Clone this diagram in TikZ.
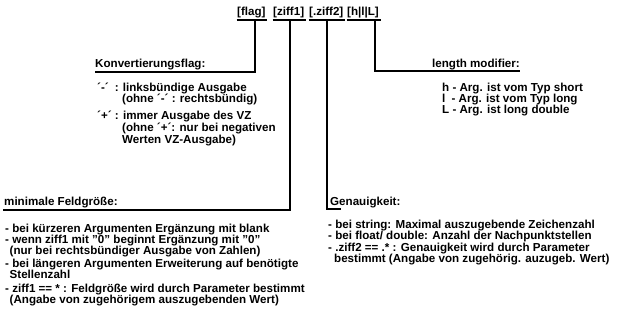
\documentclass[tikz,border=0pt]{standalone}
\usepackage{fontspec}
\setmainfont{Liberation Sans}
\begin{document}
\begin{tikzpicture}[x=1pt,y=-1pt,
  txt/.style={anchor=base west, inner sep=0pt, font=\fontsize{11.6}{13}\selectfont\bfseries},
  conn/.style={line width=1.2pt},
  uline/.style={line width=1.1pt}]
\useasboundingbox (0,0) rectangle (625,311);
% header
\node[txt] (flag) at (237,15) {[flag]};
\node[txt] (zif1) at (273,15) {[ziff1]};
\node[txt] (zif2) at (309,15) {[.ziff2]};
\node[txt] (hlL)  at (347,15) {[h|l|L]};
\foreach \n in {flag,zif1,zif2,hlL}{
  \draw[uline] ([xshift=-0.5pt]\n.base west |- 0,20) -- ([xshift=1.5pt]\n.base east |- 0,20);
}
\coordinate (dflag) at (255,20);
\coordinate (dzif1) at (290,20);
\coordinate (dzif2) at (327,20);
\coordinate (dhlL)  at (375,20);
% Konvertierungsflag
\node[txt] (kh) at (95,67.5) {Konvertierungsflag:};
\coordinate (kend) at (95,72);
\draw[conn] (dflag) |- (kend);
\node[txt] (k1) at (97,91) {´-´\hspace{6pt}: linksbündige Ausgabe};
\node[txt] (k2) at (122,102.5) {(ohne ´-´ : rechtsbündig)};
\node[txt] (k3) at (97,119) {´+´ : immer Ausgabe des VZ};
\node[txt] (k4) at (122,131) {(ohne ´+´: nur bei negativen};
\node[txt] (k5) at (122,143) {Werten VZ-Ausgabe)};
% length modifier
\node[txt, anchor=base east] (lh) at (520,67) {length modifier:};
\coordinate (lend) at (520,71);
\draw[conn] (dhlL) |- (lend);
\node[txt] (l1) at (442,91.5) {h - Arg. ist vom Typ short};
\node[txt] (l2) at (442,102.5) {l\hspace{3pt} - Arg. ist vom Typ long};
\node[txt] (l3) at (442,113) {L - Arg. ist long double};
% minimale Feldgroesse
\node[txt] (mh) at (4,205.5) {minimale Feldgröße:};
\coordinate (mend) at (3,210);
\draw[conn] (dzif1) |- (mend);
\node[txt] (m1) at (5,232) {- bei kürzeren Argumenten Ergänzung mit blank};
\node[txt] (m2) at (5,243.5) {- wenn ziff1 mit "0" beginnt Ergänzung mit "0"};
\node[txt] (m3) at (9.5,254.5) {(nur bei rechtsbündiger Ausgabe von Zahlen)};
\node[txt] (m4) at (5,267.5) {- bei längeren Argumenten Erweiterung auf benötigte};
\node[txt] (m5) at (9.5,278.5) {Stellenzahl};
\node[txt] (m6) at (5,292) {- ziff1 == * : Feldgröße wird durch Parameter bestimmt};
\node[txt] (m7) at (9.5,303.5) {(Angabe von zugehörigem auszugebenden Wert)};
% Genauigkeit
\node[txt] (gh) at (330,205) {Genauigkeit:};
\coordinate (gend) at (341,209);
\draw[conn] (dzif2) |- (gend);
\node[txt] (g1) at (328,228.5) {- bei string: Maximal auszugebende Zeichenzahl};
\node[txt] (g2) at (328,239.5) {- bei float/ double: Anzahl der Nachpunktstellen};
\node[txt] (g3) at (328,251) {- .ziff2 == .* : Genauigkeit wird durch Parameter};
\node[txt] (g4) at (334,262) {bestimmt (Angabe von zugehörig. auzugeb. Wert)};
\end{tikzpicture}
\end{document}
